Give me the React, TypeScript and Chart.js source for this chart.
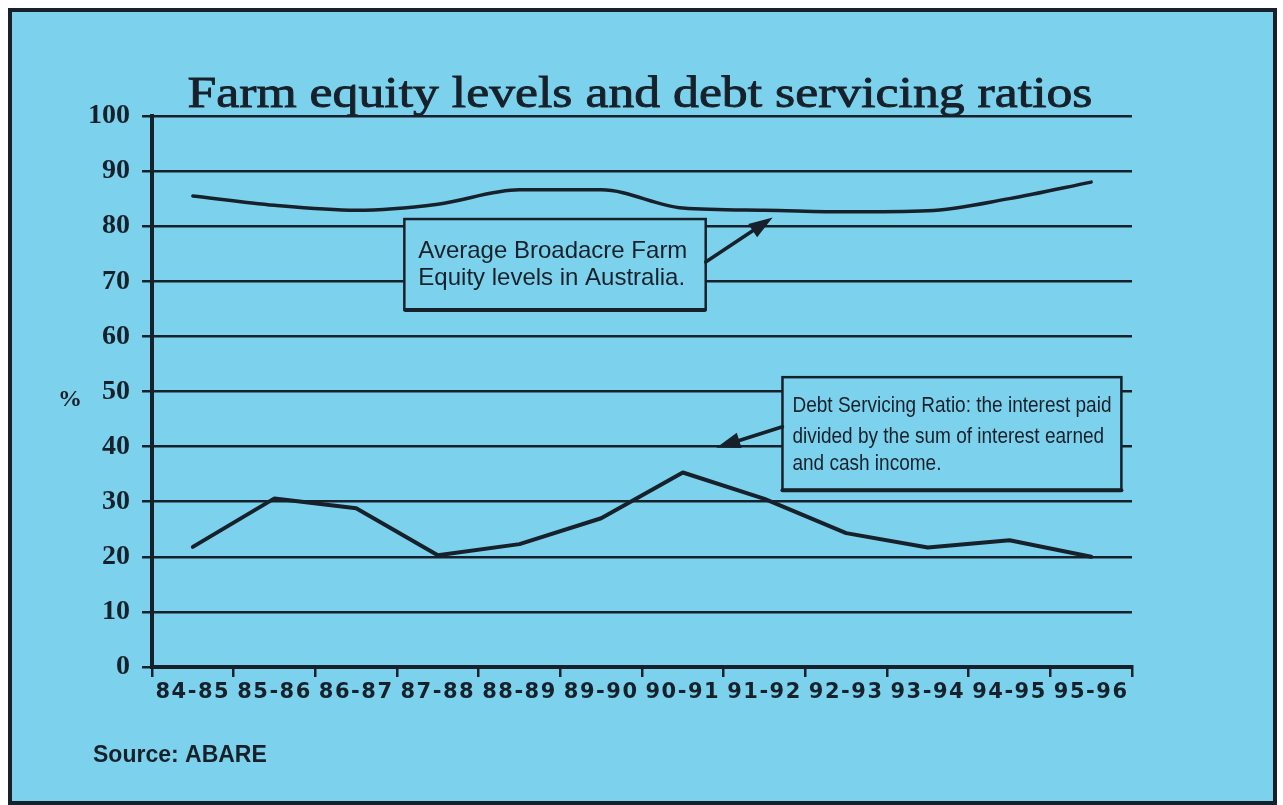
import React, { useEffect, useRef } from 'react';
import { Chart, registerables } from 'chart.js';

Chart.register(...registerables);

// ---------- data ----------
const categories = ['84-85', '85-86', '86-87', '87-88', '88-89', '89-90', '90-91', '91-92', '92-93', '93-94', '94-95', '95-96'];
const equityLevels = [85.5, 83.8, 82.9, 84.0, 86.6, 86.6, 83.3, 82.9, 82.6, 82.8, 85.0, 88.0];
const debtServicingRatio = [21.8, 30.6, 28.8, 20.3, 22.3, 27.0, 35.3, 30.5, 24.3, 21.7, 23.0, 20.0];
const yTickValues = [0, 10, 20, 30, 40, 50, 60, 70, 80, 90, 100];

const titleText = 'Farm equity levels and debt servicing ratios';
const equityNote = ['Average Broadacre Farm', 'Equity levels in Australia.'];
const debtNote = ['Debt Servicing Ratio: the interest paid', 'divided by the sum of interest earned', 'and cash income.'];
const sourceText = 'Source: ABARE';
const yUnit = '%';

// ---------- style ----------
const INK = '#17212b';
const BG = '#7cd2ec';

type Note = {
  x0: number; x1: number; yTop: number; yBottom: number;
  lines: string[]; font: string; padX: number; baselines: number[]; textWidth?: number;
  arrowFrom: [number, number]; arrowTo: [number, number];
};

const notes: Note[] = [
  {
    x0: 2.59, x1: 6.28, yTop: 81.3, yBottom: 64.8,
    lines: equityNote, font: '24px "Liberation Sans"', padX: 14, baselines: [39, 66],
    arrowFrom: [6.28, 73.5], arrowTo: [7.1, 81.6],
  },
  {
    x0: 7.22, x1: 11.37, yTop: 52.6, yBottom: 32.1,
    lines: debtNote, font: '22px "Liberation Sans"', padX: 10, baselines: [35, 66, 93], textWidth: 319,
    arrowFrom: [7.22, 43.6], arrowTo: [6.41, 39.8],
  },
];

function drawArrow(ctx: CanvasRenderingContext2D, x1: number, y1: number, x2: number, y2: number) {
  const ang = Math.atan2(y2 - y1, x2 - x1);
  const len = 24, half = 8;
  const bx = x2 - Math.cos(ang) * len, by = y2 - Math.sin(ang) * len;
  ctx.beginPath();
  ctx.moveTo(x1, y1);
  ctx.lineTo(bx, by);
  ctx.lineWidth = 3.5;
  ctx.lineCap = 'round';
  ctx.strokeStyle = INK;
  ctx.stroke();
  ctx.beginPath();
  ctx.moveTo(x2, y2);
  ctx.lineTo(bx - Math.sin(ang) * half, by + Math.cos(ang) * half);
  ctx.lineTo(bx + Math.sin(ang) * half, by - Math.cos(ang) * half);
  ctx.closePath();
  ctx.fillStyle = INK;
  ctx.fill();
}

const decorPlugin = {
  id: 'decor',
  afterLayout(chart: any) {
    // spaced-out lettering for the category labels only
    const xs = chart.scales.x;
    if (xs && !xs.__spaced) {
      const orig = xs.drawLabels.bind(xs);
      xs.drawLabels = (area: any) => {
        const c = xs.ctx as any;
        const prev = c.letterSpacing;
        c.letterSpacing = '1.5px';
        orig(area);
        c.letterSpacing = prev || '0px';
      };
      xs.__spaced = true;
    }
  },
  beforeDraw(chart: any) {
    const { ctx, width, height } = chart;
    ctx.save();
    ctx.fillStyle = '#ffffff';
    ctx.fillRect(0, 0, width, height);
    ctx.fillStyle = BG;
    ctx.fillRect(10, 10, width - 18, height - 12);
    ctx.strokeStyle = INK;
    ctx.lineWidth = 4;
    ctx.strokeRect(10, 10, width - 18, height - 12);

    // title, stretched to the reference width and slightly emboldened
    ctx.fillStyle = INK;
    ctx.strokeStyle = INK;
    ctx.textAlign = 'center';
    ctx.textBaseline = 'alphabetic';
    ctx.font = '45px "Liberation Serif"';
    const tw = ctx.measureText(titleText).width;
    ctx.save();
    ctx.translate(640, 107);
    ctx.scale(905 / tw, 1);
    ctx.fillText(titleText, 0, 0);
    ctx.lineWidth = 0.9;
    ctx.strokeText(titleText, 0, 0);
    ctx.restore();

    ctx.font = 'bold 24px "Liberation Serif"';
    ctx.textBaseline = 'middle';
    ctx.fillText(yUnit, 70, 400);

    ctx.textAlign = 'left';
    ctx.textBaseline = 'alphabetic';
    ctx.font = 'bold 23px "Liberation Sans"';
    ctx.fillText(sourceText, 93, 762);
    ctx.restore();
  },
  afterDatasetsDraw(chart: any) {
    const { ctx } = chart;
    const xs = chart.scales.x, ys = chart.scales.y;
    ctx.save();
    notes.forEach((n) => {
      const L = xs.getPixelForValue(n.x0), R = xs.getPixelForValue(n.x1);
      const T = ys.getPixelForValue(n.yTop), B = ys.getPixelForValue(n.yBottom);
      ctx.fillStyle = BG;
      ctx.fillRect(L, T, R - L, B - T);
      ctx.strokeStyle = INK;
      ctx.lineWidth = 2.5;
      ctx.strokeRect(L, T, R - L, B - T);
      ctx.lineWidth = 4;
      ctx.beginPath();
      ctx.moveTo(L, B);
      ctx.lineTo(R, B);
      ctx.stroke();

      ctx.fillStyle = INK;
      ctx.font = n.font;
      ctx.textAlign = 'left';
      ctx.textBaseline = 'alphabetic';
      let sx = 1;
      if (n.textWidth) sx = n.textWidth / ctx.measureText(n.lines[0]).width;
      n.lines.forEach((line, i) => {
        ctx.save();
        ctx.translate(L + n.padX, T + n.baselines[i]);
        ctx.scale(sx, 1);
        ctx.fillText(line, 0, 0);
        ctx.restore();
      });

      drawArrow(
        ctx,
        xs.getPixelForValue(n.arrowFrom[0]), ys.getPixelForValue(n.arrowFrom[1]),
        xs.getPixelForValue(n.arrowTo[0]), ys.getPixelForValue(n.arrowTo[1])
      );
    });
    ctx.restore();
  },
};

export default function App() {
  const canvasRef = useRef<HTMLCanvasElement | null>(null);

  useEffect(() => {
    if (!canvasRef.current) return;
    const chart = new Chart(canvasRef.current, {
      type: 'line',
      data: {
        labels: categories,
        datasets: [
          {
            label: 'Average Broadacre Farm Equity levels',
            data: equityLevels,
            borderColor: INK,
            borderWidth: 3.5,
            cubicInterpolationMode: 'monotone',
            pointRadius: 0,
            fill: false,
            borderCapStyle: 'round',
            borderJoinStyle: 'round',
          },
          {
            label: 'Debt Servicing Ratio',
            data: debtServicingRatio,
            borderColor: INK,
            borderWidth: 4,
            tension: 0,
            pointRadius: 0,
            fill: false,
            borderCapStyle: 'round',
            borderJoinStyle: 'round',
          },
        ],
      },
      options: {
        responsive: false,
        animation: false,
        devicePixelRatio: 1,
        layout: { padding: { left: 10, right: 151, top: 116, bottom: 88 } },
        plugins: {
          legend: { display: false },
          title: { display: false },
          tooltip: { enabled: false },
        },
        scales: {
          x: {
            type: 'category',
            offset: true,
            grid: {
              display: true,
              drawOnChartArea: false,
              drawTicks: true,
              tickLength: 10,
              offset: true,
              lineWidth: 2.5,
              color: INK,
            },
            border: { display: true, width: 4, color: INK },
            ticks: {
              color: INK,
              font: { family: '"DejaVu Sans"', weight: 'bold', size: 21 },
              padding: 3,
              maxRotation: 0,
              autoSkip: false,
            },
            afterFit: (s: any) => { s.height = 50; },
          },
          y: {
            min: 0,
            max: 100,
            afterBuildTicks: (s: any) => { s.ticks = yTickValues.map((v) => ({ value: v })); },
            grid: { color: INK, lineWidth: 2.5, tickLength: 10 },
            border: { display: true, width: 4, color: INK },
            ticks: {
              color: INK,
              font: { family: '"Liberation Serif"', weight: 'bold', size: 28 },
              padding: 12,
            },
            afterFit: (s: any) => { s.width = 142; },
          },
        },
      },
      plugins: [decorPlugin],
    } as any);
    return () => chart.destroy();
  }, []);

  return (
    <div style={{ position: 'absolute', left: 0, top: 0, width: 1283, height: 805, background: '#fff' }}>
      <canvas ref={canvasRef} width={1283} height={805} style={{ display: 'block' }} />
    </div>
  );
}
